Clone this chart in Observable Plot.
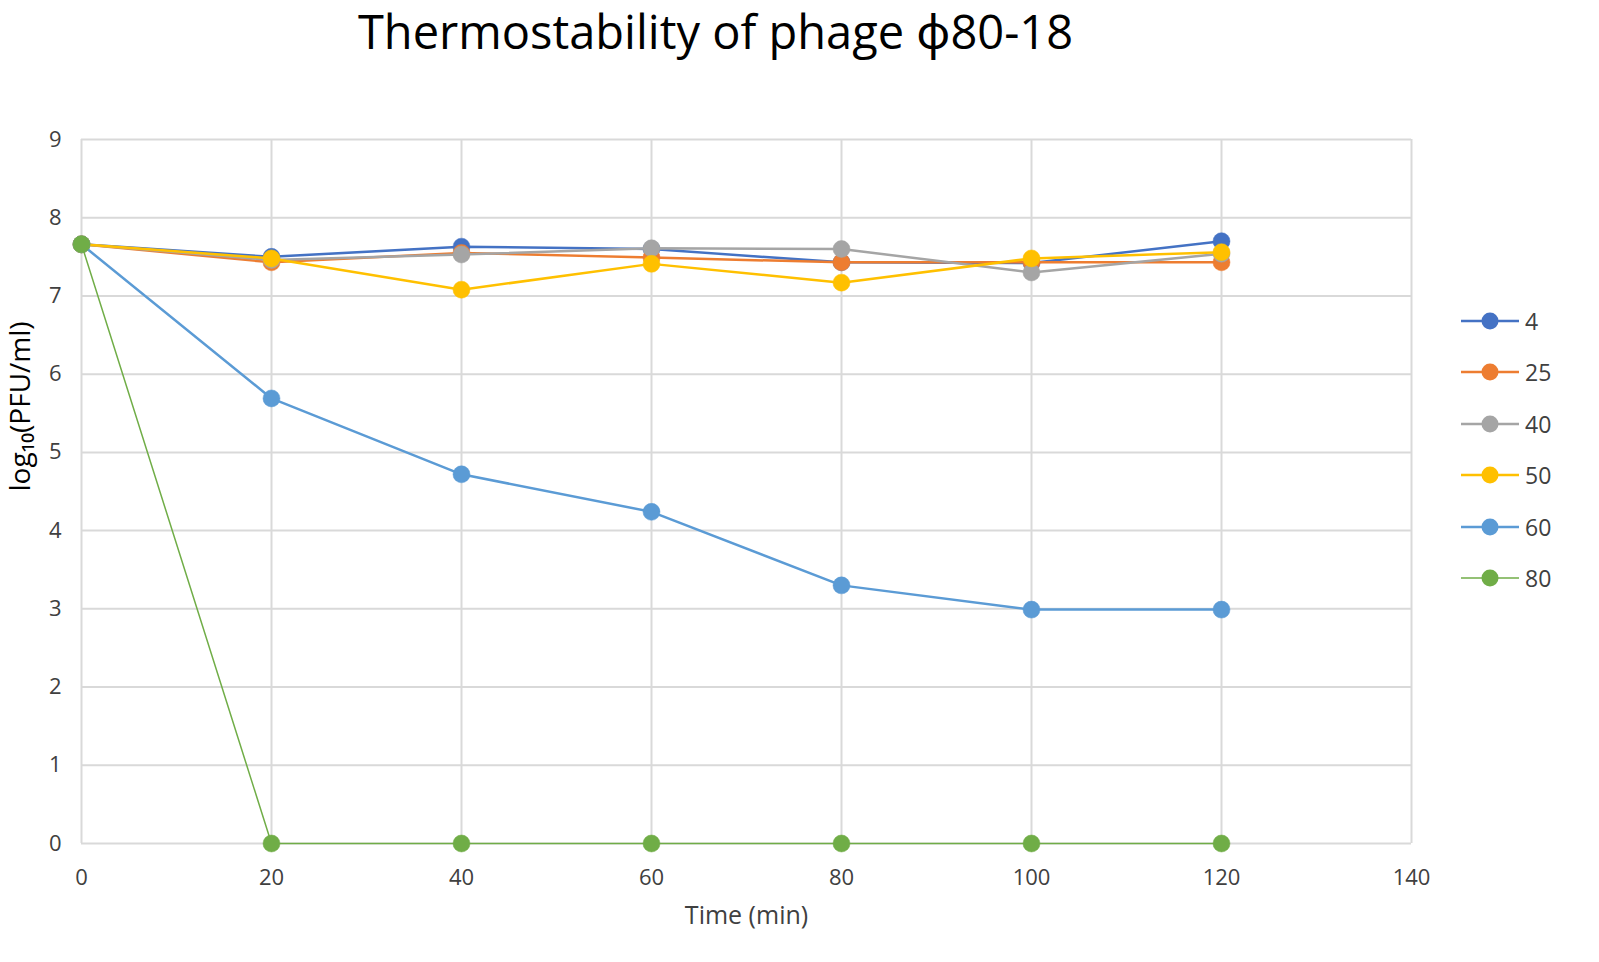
<!DOCTYPE html>
<html>
<head>
<meta charset="utf-8">
<script src="https://cdn.jsdelivr.net/npm/d3@7"></script>
<script src="https://cdn.jsdelivr.net/npm/@observablehq/plot@0.6"></script>
<style>
  html, body { margin: 0; padding: 0; background: #fff; overflow: hidden; }
  body { width: 1599px; height: 962px; position: relative; font-family: "Open Sans", "Noto Sans", sans-serif; }
  #title { height: 60px; padding-top: 4px; text-align: center; font-size: 47px; line-height: 54px; color: #000; padding-right: 168px; box-sizing: border-box; white-space: nowrap; }
  #chart svg { display: block; }
  #legend { position: absolute; left: 1459px; top: 295px; }
  .li { display: flex; align-items: center; height: 51.5px; font-size: 23px; color: #404040; }
  .li svg { margin-right: 4px; }
</style>
</head>
<body>
<div id="title">Thermostability of phage ϕ80-18</div>
<div id="chart"></div>
<div id="legend"></div>
<script>
const times = [0, 20, 40, 60, 80, 100, 120];
const seriesNames = ["4", "25", "40", "50", "60", "80"];
const s4  = [7.66, 7.50, 7.63, 7.60, 7.43, 7.42, 7.70];
const s25 = [7.66, 7.43, 7.55, 7.49, 7.43, 7.43, 7.43];
const s40 = [7.66, 7.46, 7.53, 7.61, 7.60, 7.30, 7.54];
const s50 = [7.66, 7.48, 7.08, 7.41, 7.17, 7.48, 7.56];
const s60 = [7.66, 5.69, 4.72, 4.24, 3.30, 2.99, 2.99];
const s80 = [7.66, 0, 0, 0, 0, 0, 0];
const seriesValues = [s4, s25, s40, s50, s60, s80];
const colors = ["#4472C4", "#ED7D31", "#A5A5A5", "#FFC000", "#5B9BD5", "#70AD47"];
const lineWidths = [2.5, 2.5, 2.5, 2.5, 2.5, 1.5];
const xTicks = [0, 20, 40, 60, 80, 100, 120, 140];
const yTicks = [0, 1, 2, 3, 4, 5, 6, 7, 8, 9];

const rows = [];
seriesNames.forEach((name, i) => {
  times.forEach((t, j) => rows.push({series: name, time: t, value: seriesValues[i][j], idx: i}));
});

const marks = [
  Plot.gridX(xTicks, {stroke: "#d9d9d9", strokeOpacity: 1, strokeWidth: 2}),
  Plot.gridY(yTicks, {stroke: "#d9d9d9", strokeOpacity: 1, strokeWidth: 2}),
  Plot.axisX(xTicks, {tickSize: 0, tickPadding: 26, fontSize: 22, fill: "#404040", label: null, tickFormat: d => String(d)}),
  Plot.axisY(yTicks, {tickSize: 0, tickPadding: 20, fontSize: 22, fill: "#404040", label: null, tickFormat: d => String(d)}),
  Plot.text(["Time (min)"], {frameAnchor: "bottom", dy: 80, fontSize: 25, fill: "#404040"}),
  Plot.text(["log₁₀(PFU/ml)"], {frameAnchor: "left", dx: -60, rotate: -90, fontSize: 28, fill: "#000"})
];
seriesNames.forEach((name, i) => {
  const d = rows.filter(r => r.series === name);
  marks.push(Plot.line(d, {x: "time", y: "value", stroke: colors[i], strokeWidth: lineWidths[i]}));
  marks.push(Plot.dot(d, {x: "time", y: "value", fill: colors[i], r: 8.5, stroke: colors[i], strokeWidth: 0.5}));
});

const chart = Plot.plot({
  width: 1599,
  height: 902,
  marginLeft: 81,
  marginRight: 188,
  marginTop: 79,
  marginBottom: 119,
  style: {fontFamily: "'Open Sans', 'Noto Sans', sans-serif", background: "#fff", overflow: "visible"},
  x: {domain: [0, 140]},
  y: {domain: [0, 9]},
  marks
});
document.getElementById("chart").appendChild(chart);

const legend = document.getElementById("legend");
seriesNames.forEach((name, i) => {
  const div = document.createElement("div");
  div.className = "li";
  div.innerHTML = `<svg width="62" height="20"><line x1="2" x2="60" y1="10" y2="10" stroke="${colors[i]}" stroke-width="${lineWidths[i]}"/><circle cx="31" cy="10" r="8.5" fill="${colors[i]}"/></svg><span>${name}</span>`;
  legend.appendChild(div);
});
</script>
</body>
</html>
